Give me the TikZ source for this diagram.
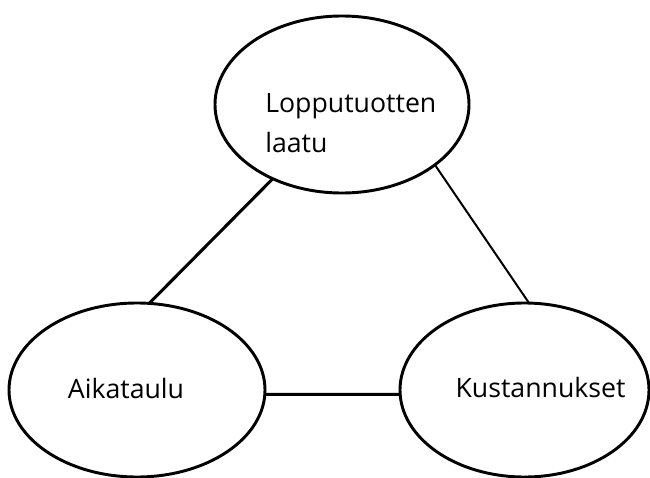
\documentclass[tikz,border=0pt]{standalone}
\usepackage{fontspec}
\setmainfont{Open Sans}
\usetikzlibrary{shapes.geometric}
\begin{document}
\begin{tikzpicture}[x=0.75pt,y=-0.75pt,
  oval/.style={ellipse,draw,line width=2.2pt,inner sep=0pt,outer sep=0pt},
  thickline/.style={line width=2.3pt},
  thinline/.style={line width=1.5pt},
  lbl/.style={inner sep=0pt,font=\fontsize{20pt}{30pt}\selectfont}]
\useasboundingbox (0,0) rectangle (650,478);
\node[oval,minimum width=190.5pt,minimum height=132.75pt] (top) at (342,104.5) {};
\node[oval,minimum width=192pt,minimum height=130.5pt] (left) at (137,390) {};
\node[oval,minimum width=186.75pt,minimum height=130.5pt] (right) at (524.5,390) {};
\node[lbl,anchor=base west,align=left] (ttop) at (265,152) {Lopputuotten\\laatu};
\node[lbl,anchor=base] (tleft) at (126,398) {Aikataulu};
\node[lbl,anchor=base] (tright) at (540.5,397) {Kustannukset};
\draw[thickline] (top.227.6) -- (left.82);
\draw[thinline] (top.-33.9) -- (right.87);
\draw[thickline] (left.-2.2) -- (right.182.3);
\end{tikzpicture}
\end{document}
